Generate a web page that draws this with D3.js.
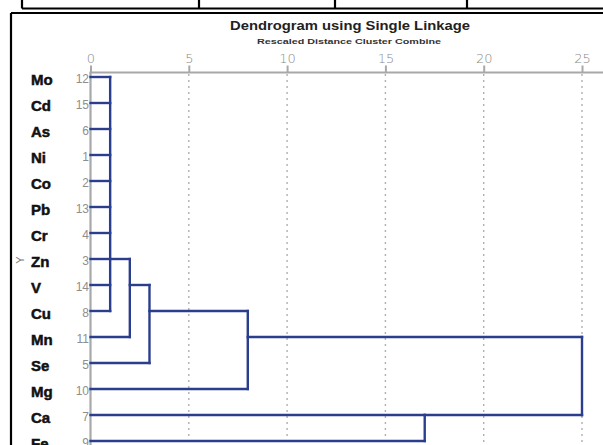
<!DOCTYPE html>
<html>
<head>
<meta charset="utf-8">
<script src="https://cdn.jsdelivr.net/npm/d3@7"></script>
<style>
  html, body { margin: 0; padding: 0; background: #fff; }
  svg { display: block; }
</style>
</head>
<body>
<svg id="chart" width="603" height="445"></svg>
<script>
// Leaves in dendrogram order, with their case numbers
const leaves = ["Mo", "Cd", "As", "Ni", "Co", "Pb", "Cr", "Zn", "V", "Cu", "Mn", "Se", "Mg", "Ca", "Fe"];
const caseNumbers = [12, 15, 6, 1, 2, 13, 4, 3, 14, 8, 11, 5, 10, 7, 9];

// Agglomeration steps (rescaled distance 0-25)
const clusterIds = ["A", "B", "C", "D", "E", "ALL"];
const clusterMembers = [
  ["Mo", "Cd", "As", "Ni", "Co", "Pb", "Cr", "Zn", "V", "Cu"],
  ["A", "Mn"],
  ["B", "Se"],
  ["C", "Mg"],
  ["Ca", "Fe"],
  ["D", "E"]
];
const clusterDistances = [1, 2, 3, 8, 17, 25];
// row on which each cluster's link continues to the right
const clusterOutRow = ["Zn", "V", "Cu", "Mn", "Ca", null];

const axisTicks = [0, 5, 10, 15, 20, 25];

const title = "Dendrogram using Single Linkage";
const subtitle = "Rescaled Distance Cluster Combine";

const svg = d3.select("#chart");
const W = 603, H = 445;

const x = d3.scaleLinear().domain([0, 25]).range([90.5, 582]);
const y = d3.scalePoint().domain(leaves).range([77, 441]);

const lineColor = "#2b3e8e";
const greyAxis = "#a8a8a8";

// --- page furniture: table edge above and frame around the figure
const furniture = svg.append("g").attr("stroke", "#000").attr("stroke-width", 2.2).attr("fill", "none");
furniture.append("line").attr("x1", 22).attr("x2", W).attr("y1", 8.5).attr("y2", 8.5);
[22, 199, 335, 467].forEach(px => {
  furniture.append("line").attr("x1", px).attr("x2", px).attr("y1", 0).attr("y2", 8.5);
});
furniture.append("line").attr("x1", 11).attr("x2", W).attr("y1", 13).attr("y2", 13);
furniture.append("line").attr("x1", 11).attr("x2", 11).attr("y1", 13).attr("y2", H);

// --- titles
svg.append("text")
  .attr("x", 230).attr("y", 30)
  .attr("textLength", 240).attr("lengthAdjust", "spacingAndGlyphs")
  .style("font-family", "Liberation Sans, Arial, sans-serif")
  .style("font-weight", "bold").style("font-size", "13px").attr("fill", "#222")
  .text(title);
svg.append("text")
  .attr("x", 257).attr("y", 43.5)
  .attr("textLength", 184).attr("lengthAdjust", "spacingAndGlyphs")
  .style("font-family", "Liberation Sans, Arial, sans-serif")
  .style("font-weight", "bold").style("font-size", "8px").attr("fill", "#333")
  .text(subtitle);

// --- gridlines
svg.append("g").selectAll("line")
  .data(axisTicks.filter(d => d > 0))
  .join("line")
  .attr("x1", d => x(d)).attr("x2", d => x(d))
  .attr("y1", 74).attr("y2", H)
  .attr("stroke", "#b0b0b0").attr("stroke-width", 1.4)
  .attr("stroke-dasharray", "2,4");

// --- top axis
const axis = d3.axisTop(x).tickValues(axisTicks).tickSize(7).tickPadding(3);
const axisG = svg.append("g").attr("transform", "translate(0,72.5)").call(axis);
axisG.select(".domain").remove();
axisG.selectAll(".tick line").attr("stroke", greyAxis).attr("stroke-width", 2);
axisG.selectAll(".tick text")
  .attr("fill", "#8a8a8a")
  .style("font-family", "DejaVu Sans, sans-serif")
  .style("font-size", "13px")
  .style("font-weight", "300");
svg.append("line").attr("x1", x(0) - 1).attr("x2", W).attr("y1", 72.5).attr("y2", 72.5)
  .attr("stroke", greyAxis).attr("stroke-width", 2.2);
svg.append("line").attr("x1", x(0)).attr("x2", x(0)).attr("y1", 72.5).attr("y2", H)
  .attr("stroke", greyAxis).attr("stroke-width", 2.2);

// --- leaf labels and case numbers
const labels = svg.append("g");
labels.selectAll("text.name")
  .data(leaves)
  .join("text")
  .attr("class", "name")
  .attr("x", 31).attr("y", d => y(d) + 8)
  .style("font-family", "Liberation Sans, Arial, sans-serif")
  .style("font-weight", "bold").style("font-size", "15px")
  .attr("fill", "#111").attr("stroke", "#111").attr("stroke-width", 0.5)
  .text(d => d);
labels.selectAll("text.num")
  .data(leaves)
  .join("text")
  .attr("class", "num")
  .attr("x", 89).attr("y", d => y(d) + 5.5)
  .attr("text-anchor", "end")
  .style("font-family", "Liberation Sans, Arial, sans-serif")
  .style("font-size", "12px").attr("fill", "#8e8e8e")
  .text((d, i) => caseNumbers[i]);

// axis letter for the cases
svg.append("text")
  .attr("transform", `translate(24,${y("Zn") + 1}) rotate(-90)`)
  .attr("text-anchor", "middle")
  .style("font-family", "Liberation Sans, Arial, sans-serif")
  .style("font-size", "11px").attr("fill", "#777")
  .text("Y");

// --- dendrogram links
const nodeHeight = {};
const nodeRow = {};
leaves.forEach(l => { nodeHeight[l] = 0; nodeRow[l] = l; });

const segs = [];
clusterIds.forEach((id, i) => {
  const h = clusterDistances[i];
  const kids = clusterMembers[i];
  kids.forEach(k => {
    segs.push({ x1: x(nodeHeight[k]), x2: x(h), y1: y(nodeRow[k]), y2: y(nodeRow[k]) });
  });
  const ys = kids.map(k => y(nodeRow[k]));
  segs.push({ x1: x(h), x2: x(h), y1: d3.min(ys), y2: d3.max(ys) });
  nodeHeight[id] = h;
  nodeRow[id] = clusterOutRow[i];
});

svg.append("g")
  .attr("stroke", lineColor).attr("stroke-width", 2.4)
  .attr("stroke-linecap", "square").attr("fill", "none")
  .selectAll("line")
  .data(segs)
  .join("line")
  .attr("x1", d => d.x1).attr("x2", d => d.x2)
  .attr("y1", d => d.y1).attr("y2", d => d.y2);
</script>
</body>
</html>
